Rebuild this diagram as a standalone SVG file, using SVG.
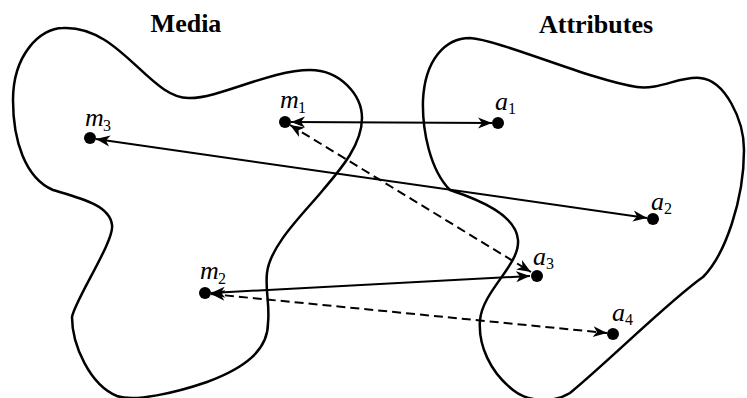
<svg xmlns="http://www.w3.org/2000/svg" width="747" height="398" viewBox="0 0 747 398">
<style>
.blob{fill:none;stroke:#000;stroke-width:2.5}
.title{font-family:"Liberation Serif",serif;font-weight:bold;font-size:26px;text-anchor:middle}
.lbl{font-family:"Liberation Serif",serif;font-style:italic;font-size:26px}
.sub{font-family:"Liberation Serif",serif;font-size:16px}
.dot{fill:#000}
.con{fill:none;stroke:#000;stroke-width:2;marker-start:url(#ah);marker-end:url(#ah)}
.dash{stroke-dasharray:9,5}
</style>
<defs>
<marker id="ah" markerUnits="userSpaceOnUse" markerWidth="15" markerHeight="12" refX="14" refY="6" orient="auto-start-reverse">
<path d="M0,0.5 L14,6 L0,11.5 L4,6 Z" fill="#000"/>
</marker>
</defs>
<g id="media">
<path class="blob" d="M63,28 C120,25 150,100 190,98 C220,98 270,70 310,70 C340,70 362,95 362,118 C362,145 340,170 323,190 C305,212 270,245 267,273 C265,290 270,305 268,323 C268,350 245,368 207,382 C175,393 135,402 117,396 C90,385 72,345 72,317 C75,300 115,240 112,225 C110,205 80,198 53,190 C25,178 13,140 13,100 C13,55 40,28 63,28 Z"/>
<text class="title" x="186" y="32">Media</text>
</g>
<g id="attributes">
<path class="blob" d="M470,38 C500,40 590,80 637,87 C660,90 680,76 700,78 C725,80 744,120 744,150 C744,200 725,255 703,277 C670,300 610,360 570,393 C550,405 525,400 513,390 C490,372 478,345 480,320 C483,290 520,265 518,240 C516,215 480,200 450,190 C430,170 422,130 423,100 C425,60 445,38 470,38 Z"/>
<text class="title" x="596" y="33">Attributes</text>
</g>
<g id="m1"><circle class="dot" cx="285" cy="122" r="6"/><text class="lbl" x="280" y="108">m</text><text class="sub" x="298" y="113">1</text></g>
<g id="m2"><circle class="dot" cx="205" cy="293" r="6"/><text class="lbl" x="200" y="279">m</text><text class="sub" x="218" y="284">2</text></g>
<g id="m3"><circle class="dot" cx="90" cy="138" r="6"/><text class="lbl" x="85" y="126">m</text><text class="sub" x="103" y="131">3</text></g>
<g id="a1"><circle class="dot" cx="498" cy="123" r="6"/><text class="lbl" x="495" y="110">a</text><text class="sub" x="508" y="114">1</text></g>
<g id="a2"><circle class="dot" cx="653" cy="219" r="6"/><text class="lbl" x="651" y="210">a</text><text class="sub" x="664" y="214">2</text></g>
<g id="a3"><circle class="dot" cx="537" cy="276" r="6"/><text class="lbl" x="533" y="265">a</text><text class="sub" x="546" y="269">3</text></g>
<g id="a4"><circle class="dot" cx="613" cy="334" r="6"/><text class="lbl" x="612" y="321">a</text><text class="sub" x="625" y="325">4</text></g>
<g id="connectors">
<line class="con" x1="291" y1="122" x2="492" y2="123"/>
<line class="con" x1="96" y1="139" x2="647" y2="218"/>
<line class="con dash" x1="290" y1="125" x2="531" y2="272"/>
<line class="con" x1="211" y1="293" x2="530" y2="276"/>
<line class="con dash" x1="211" y1="294" x2="607" y2="333"/>
</g>
</svg>
